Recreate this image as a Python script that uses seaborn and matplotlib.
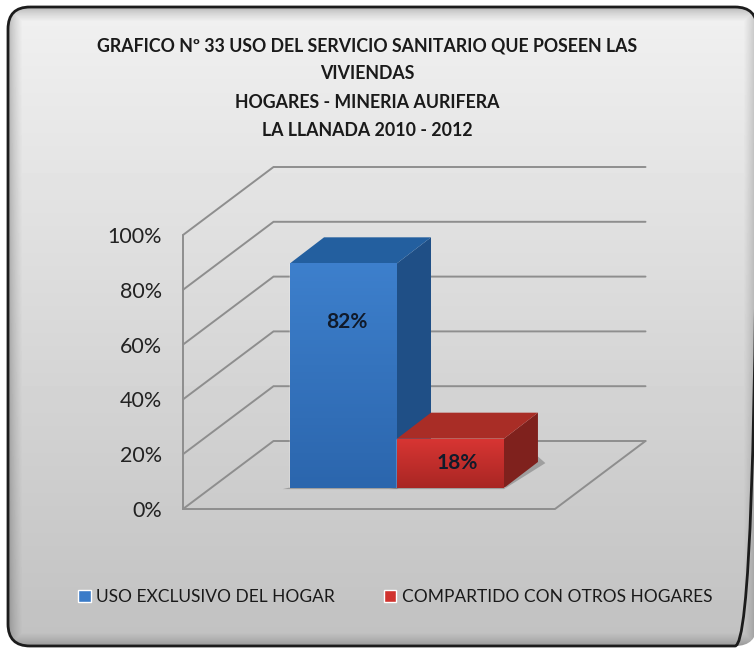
import numpy as np
import pandas as pd
import seaborn as sns
import matplotlib.pyplot as plt
from matplotlib.patches import FancyBboxPatch, Polygon

titulo = ["GRAFICO Nº 33 USO DEL SERVICIO SANITARIO QUE POSEEN LAS",
          "VIVIENDAS",
          "HOGARES - MINERIA AURIFERA",
          "LA LLANADA 2010 - 2012"]
usos = ["USO EXCLUSIVO DEL HOGAR", "COMPARTIDO CON OTROS HOGARES"]
porcentajes = [82, 18]
ticks = [0, 20, 40, 60, 80, 100]
tick_labels = ["0%", "20%", "40%", "60%", "80%", "100%"]

W, H = 754, 649
sns.set_theme(style="white")
plt.rcParams['font.family'] = ['Lato', 'DejaVu Sans']

fig = plt.figure(figsize=(W / 100, H / 100), dpi=100, facecolor="white")


def axes_px(left, top, width, height):
    return fig.add_axes([left / W, 1 - (top + height) / H, width / W, height / H])


# rounded panel with gradient
bg = fig.add_axes([0, 0, 1, 1])
bg.set_xlim(0, W)
bg.set_ylim(H, 0)
bg.axis("off")
yy, xx = np.mgrid[0:H, 0:W + 6]
shade = 0.945 - 0.19 * yy / H
edge = np.minimum.reduce([xx - 8, yy - 7, 646 - yy, 757 - xx]).clip(0, 14) / 14
shade = shade * (0.72 + 0.28 * edge ** 0.6)
panel = FancyBboxPatch((8, 7), 749, 639, boxstyle="round,pad=0,rounding_size=22",
                       fc="none", ec="#1c1c1c", lw=2, zorder=3, clip_on=False)
bg.add_patch(panel)
im = bg.imshow(shade, cmap="gray", vmin=0, vmax=1, extent=(0, W + 6, H, 0), aspect="auto")
im.set_clip_path(panel)
bg.set_xlim(0, W)
bg.set_ylim(H, 0)

# walls and floor, at the front plane of the 3D box
GRID = "#8e8e8e"
wall = axes_px(183, 235, 372, 274)
wall.patch.set_alpha(0)
wall.set_xlim(0, 1)
wall.set_ylim(0, 100)
depth_x = 90.5 / 372
depth_y = 68 / 2.74
for t in ticks:
    wall.plot([0, depth_x, 1 + depth_x], [t, t + depth_y, t + depth_y],
              color=GRID, lw=1.4, clip_on=False, solid_joinstyle="miter")
wall.plot([0, 0], [0, 100], color=GRID, lw=1.4, clip_on=False)
wall.plot([0, 1, 1 + depth_x], [0, 0, depth_y], color=GRID, lw=1.4, clip_on=False)
sns.despine(ax=wall, left=True, bottom=True)
wall.set_xticks([])
wall.set_yticks(ticks)
wall.set_yticklabels(tick_labels, fontsize=15.5, color="#222222")
wall.tick_params(axis="y", length=0, pad=15)
wall.set_xlabel("")

# bars, at the depth where they stand in the box
ax = axes_px(211, 214, 372, 274)
ax.patch.set_alpha(0)
df = pd.DataFrame({"grupo": [""] * len(usos), "uso": usos, "pct": porcentajes})
sns.barplot(data=df, x="grupo", y="pct", hue="uso", hue_order=usos, dodge=True,
            palette=["#3a7bc8", "#d0322e"], saturation=1, width=0.575, gap=0, ax=ax)
ax.set_xlim(-0.5, 0.5)
ax.set_ylim(0, 100)
ax.set_xlabel("")
ax.set_ylabel("")
ax.set_xticks([])
ax.set_yticks([])
sns.despine(ax=ax, left=True, bottom=True)

sns.move_legend(ax, "center left", bbox_to_anchor=(78 / W, 1 - 597 / H),
                bbox_transform=fig.transFigure, ncol=2, frameon=False, title=None,
                fontsize=12.5, handlelength=0.72, handleheight=0.72, handletextpad=0.3,
                columnspacing=2.85, labelcolor="#1a1a1a", borderpad=0, borderaxespad=0)

bar_dx = 34 / 372
bar_dy = 26 / 2.74
tonos = [("#235f9f", "#1f4f86"), ("#a92d26", "#7f211d")]
fondos = [((0.24, 0.50, 0.80), (0.17, 0.40, 0.68)), ((0.85, 0.21, 0.20), (0.66, 0.15, 0.14))]
pos_label = [(0.01, 0.74), (0.017, 0.50)]
bars = [p for p in ax.patches if p.get_height() > 0]
for i, bar in enumerate(bars):
    x0, x1 = bar.get_x(), bar.get_x() + bar.get_width()
    h = bar.get_height()
    z = 3 + i * 2
    # soft shadow on the floor
    ax.add_patch(Polygon([(x0 - 0.02, -0.4), (x1, -0.4), (x1 + bar_dx + 0.02, bar_dy - 0.4), (x1 + bar_dx, bar_dy + 2)],
                         fc="#707070", ec="none", alpha=0.5, zorder=z - 1, clip_on=False))
    bar.set_zorder(z)
    top_face = Polygon([(x0, h), (x0 + bar_dx, h + bar_dy), (x1 + bar_dx, h + bar_dy), (x1, h)],
                       fc=tonos[i][0], ec="none", zorder=z, clip_on=False)
    side_face = Polygon([(x1, 0), (x1 + bar_dx, bar_dy), (x1 + bar_dx, h + bar_dy), (x1, h)],
                        fc=tonos[i][1], ec="none", zorder=z, clip_on=False)
    ax.add_patch(side_face)
    ax.add_patch(top_face)
    grad = np.linspace(0, 1, 64)[:, None, None] * (np.array(fondos[i][1]) - fondos[i][0]) + fondos[i][0]
    front = ax.imshow(grad, extent=(x0, x1, 0, h), origin="upper", aspect="auto", zorder=z + 0.5)
    front.set_clip_path(bar)
    ax.text((x0 + x1) / 2 + pos_label[i][0], h * pos_label[i][1], f"{porcentajes[i]}%",
            ha="center", va="center", fontsize=15, fontweight="bold", color="#101a2a", zorder=z + 1)
ax.set_xlim(-0.5, 0.5)
ax.set_ylim(0, 100)

fig.text(367 / W, 1 - 88 / H, "\n".join(titulo), ha="center", va="center", fontsize=12.8,
         fontweight="bold", color="#1a1a1a", linespacing=1.8)

fig.savefig("out.png", dpi=100)
